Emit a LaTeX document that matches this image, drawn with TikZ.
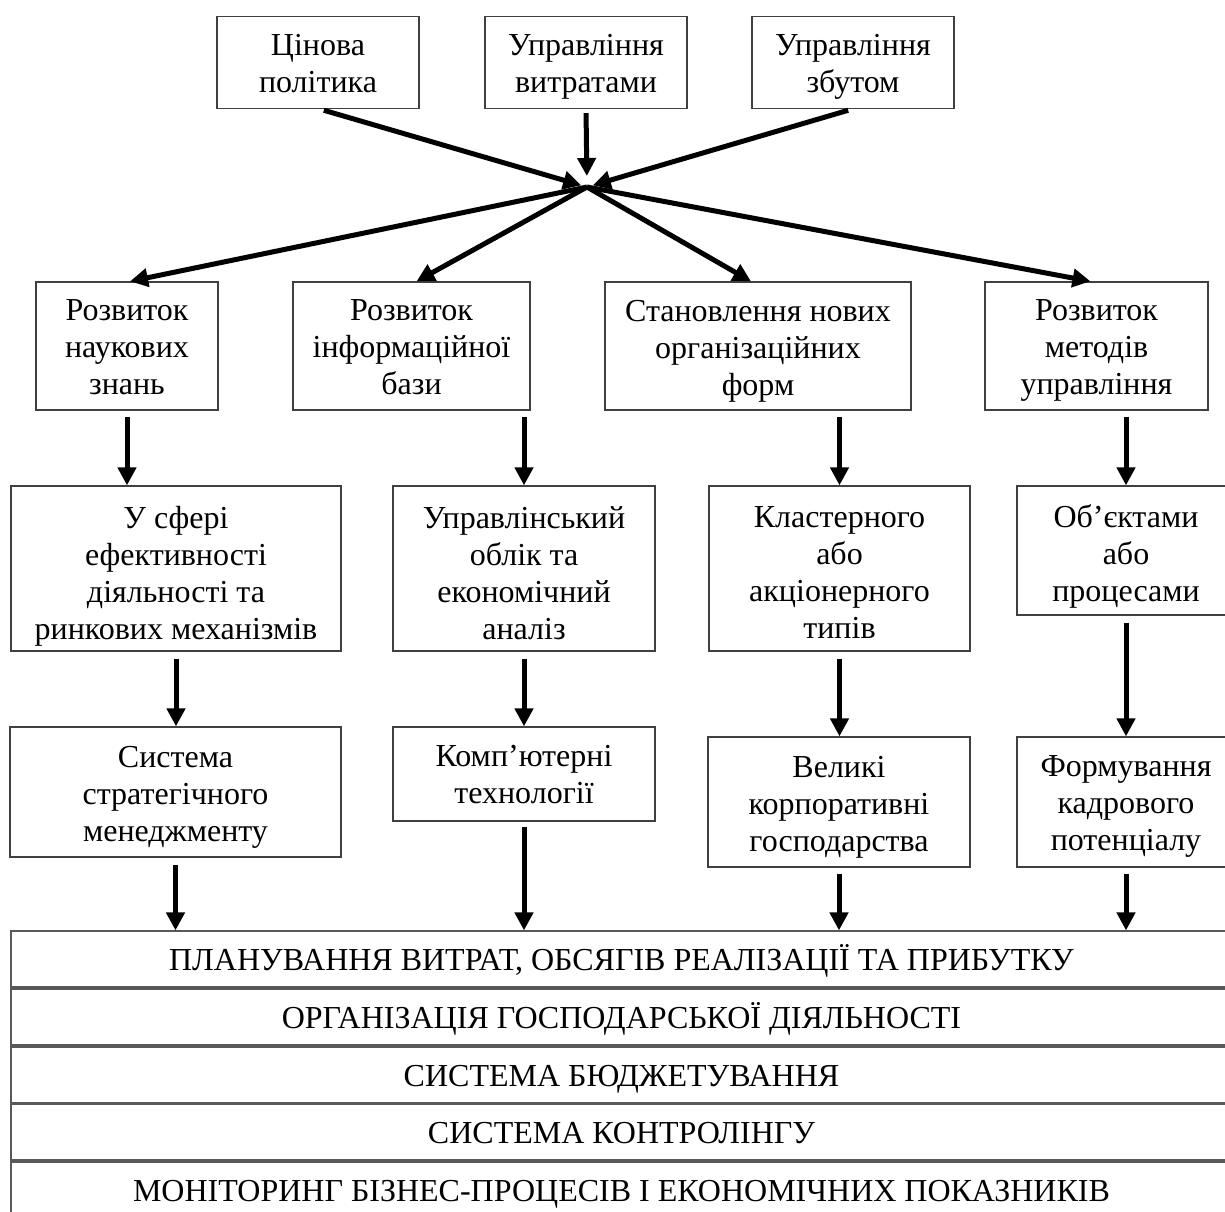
\documentclass[tikz,border=0pt]{standalone}
\usepackage{fontspec}
\setmainfont{Liberation Serif}
\usetikzlibrary{arrows.meta,calc}
\newcommand{\vstr}{\rule[-7pt]{0pt}{36pt}}
\tikzset{
  box/.style={draw=black!75, line width=1.3pt, inner sep=0pt, fill=white},
  txt/.style={inner sep=0pt, align=center, font=\fontsize{32}{37}\selectfont,
    execute at begin node=\vstr, execute at end node=\vstr},
  bar/.style={draw=black!65, line width=1.2pt, inner sep=0pt,
    font=\fontsize{32}{37}\selectfont, minimum width=1221pt, minimum height=56pt,
    execute at begin node=\vstr},
  arr/.style={line width=5pt, -{Triangle[length=18pt,width=18pt]}},
}
\begin{document}
\begin{tikzpicture}[x=1pt,y=-1pt]
\useasboundingbox (0,0) rectangle (1225,1211);
% top row
\node[box, minimum width=202pt, minimum height=92pt] (p1) at (318,62.5) {};
\node[txt] (p1t) at ([yshift=-4pt]p1.center) {Цінова\\політика};
\node[box, minimum width=202pt, minimum height=92pt] (p2) at (586,62.5) {};
\node[txt] (p2t) at ([yshift=-4pt]p2.center) {Управління\\витратами};
\node[box, minimum width=202pt, minimum height=92pt] (p3) at (853,62.5) {};
\node[txt] (p3t) at ([yshift=-4pt]p3.center) {Управління\\збутом};
\coordinate (hub) at (587,187);
% second row
\node[box, minimum width=182pt, minimum height=128pt] (b1) at (127,346) {};
\node[txt] (b1t) at ([yshift=-5pt]b1.center) {Розвиток\\наукових\\знань};
\node[box, minimum width=237pt, minimum height=128pt] (b2) at (411.5,346) {};
\node[txt] (b2t) at ([yshift=-5pt]b2.center) {Розвиток\\інформаційної\\бази};
\node[box, minimum width=306pt, minimum height=128pt] (b3) at (758,346) {};
\node[txt] (b3t) at ([yshift=-5pt]b3.center) {Становлення нових\\організаційних\\форм};
\node[box, minimum width=223pt, minimum height=128pt] (b4) at (1096.5,346) {};
\node[txt] (b4t) at ([yshift=-5pt]b4.center) {Розвиток\\методів\\управління};
% third row
\node[box, minimum width=330pt, minimum height=165pt] (c1) at (176,568.5) {};
\node[txt] (c1t) at ([yshift=-8pt]c1.center) {У сфері\\ефективності\\діяльності та\\ринкових механізмів};
\node[box, minimum width=262pt, minimum height=165pt] (c2) at (524,568.5) {};
\node[txt] (c2t) at ([yshift=-8pt]c2.center) {Управлінський\\облік та\\економічний\\аналіз};
\node[box, minimum width=261pt, minimum height=165pt] (c3) at (839.5,568.5) {};
\node[txt] (c3t) at ([yshift=-8pt]c3.center) {Кластерного\\або\\акціонерного\\типів};
\node[box, minimum width=218pt, minimum height=129pt] (c4) at (1126,550.5) {};
\node[txt] (c4t) at ([yshift=-6pt]c4.center) {Об’єктами\\або\\процесами};
% fourth row
\node[box, minimum width=331pt, minimum height=130pt] (d1) at (175.5,792) {};
\node[txt] (d1t) at ([yshift=-5pt]d1.center) {Система\\стратегічного\\менеджменту};
\node[box, minimum width=262pt, minimum height=94pt] (d2) at (524,774) {};
\node[txt] (d2t) at ([yshift=-4pt]d2.center) {Комп’ютерні\\технології};
\node[box, minimum width=262pt, minimum height=130pt] (d3) at (839,802) {};
\node[txt] (d3t) at ([yshift=-5pt]d3.center) {Великі\\корпоративні\\господарства};
\node[box, minimum width=218pt, minimum height=130pt] (d4) at (1126,802) {};
\node[txt] (d4t) at ([yshift=-5pt]d4.center) {Формування\\кадрового\\потенціалу};
% bars
\node[bar] (e1) at (621.5,959) {ПЛАНУВАННЯ ВИТРАТ, ОБСЯГІВ РЕАЛІЗАЦІЇ ТА ПРИБУТКУ};
\node[bar] (e2) at (621.5,1017) {ОРГАНІЗАЦІЯ ГОСПОДАРСЬКОЇ ДІЯЛЬНОСТІ};
\node[bar] (e3) at (621.5,1075) {СИСТЕМА БЮДЖЕТУВАННЯ};
\node[bar] (e4) at (621.5,1132) {СИСТЕМА КОНТРОЛІНГУ};
\node[bar] (e5) at (621.5,1190) {МОНІТОРИНГ БІЗНЕС-ПРОЦЕСІВ І ЕКОНОМІЧНИХ ПОКАЗНИКІВ};
% converging arrows
\draw[arr, shorten <=4pt, shorten >=6pt] ([xshift=2pt]p1.south) -- (hub);
\draw[arr, shorten <=4pt, shorten >=11pt] (p2.south) -- (hub);
\draw[arr, shorten <=4pt, shorten >=6pt] ([xshift=-1pt]p3.south) -- (hub);
% diverging arrows
\draw[arr] (hub) -- ([xshift=3pt]b1.north);
\draw[arr] (hub) -- ([xshift=5pt]b2.north);
\draw[arr] (hub) -- ([xshift=-7pt]b3.north);
\draw[arr] (hub) -- ([xshift=-6pt]b4.north);
% row 2 -> row 3
\draw[arr, shorten <=6pt] (b1.south) -- (b1.south |- c1.north);
\draw[arr, shorten <=6pt] (b2.south -| c2.north) -- (c2.north);
\draw[arr, shorten <=6pt] (b3.south -| c3.north) -- (c3.north);
\draw[arr, shorten <=6pt] (b4.south -| c4.north) -- (c4.north);
% row 3 -> row 4
\draw[arr, shorten <=7pt] (c1.south) -- (c1.south |- d1.north);
\draw[arr, shorten <=7pt] (c2.south) -- (c2.south |- d2.north);
\draw[arr, shorten <=7pt] (c3.south) -- (c3.south |- d3.north);
\draw[arr, shorten <=7pt] (c4.south) -- (c4.south |- d4.north);
% row 4 -> bars
\draw[arr, shorten <=7pt] (d1.south) -- (d1.south |- e1.north);
\draw[arr, shorten <=5pt] (d2.south) -- (d2.south |- e1.north);
\draw[arr, shorten <=6pt] (d3.south) -- (d3.south |- e1.north);
\draw[arr, shorten <=6pt] (d4.south) -- (d4.south |- e1.north);
\end{tikzpicture}
\end{document}
